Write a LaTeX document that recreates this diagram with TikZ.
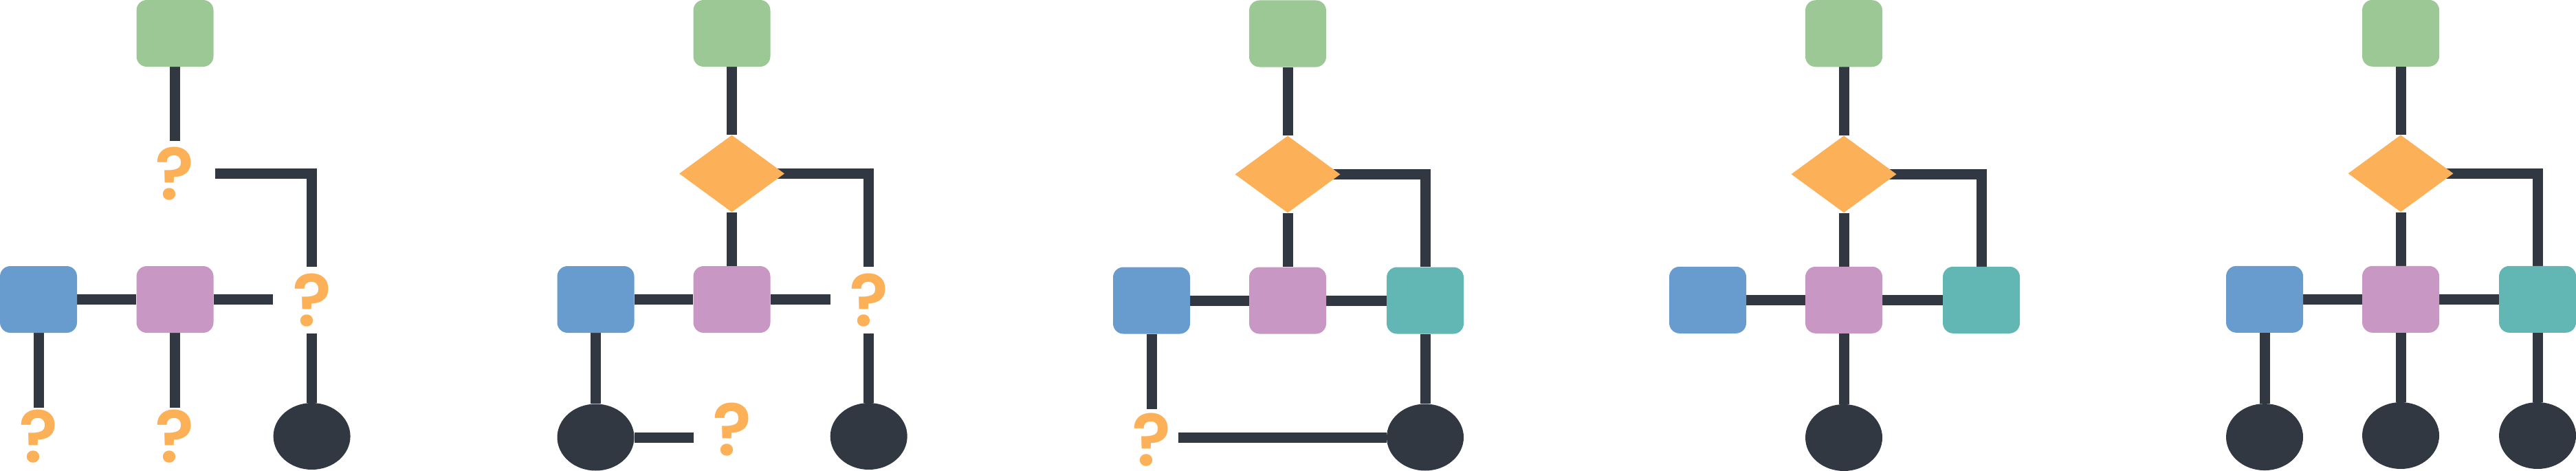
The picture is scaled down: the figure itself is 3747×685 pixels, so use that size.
\documentclass[tikz,border=0pt]{standalone}
\usepackage{fontspec}
\newfontfamily\qfont{Poppins}[BoldFont={Poppins SemiBold}]
\usetikzlibrary{shapes.geometric}
\definecolor{cgreen}{HTML}{9BC895}
\definecolor{cblue}{HTML}{689BCE}
\definecolor{cpink}{HTML}{C897C3}
\definecolor{cteal}{HTML}{62B7B5}
\definecolor{corange}{HTML}{FCB058}
\definecolor{cdark}{HTML}{323841}
\pgfdeclarelayer{bg}
\pgfsetlayers{bg,main}
\tikzset{
  boxn/.style={rectangle, rounded corners=15pt, minimum width=112pt, minimum height=97pt, inner sep=0pt, draw=none},
  gbox/.style={boxn, fill=cgreen},
  bbox/.style={boxn, fill=cblue},
  pbox/.style={boxn, fill=cpink},
  tbox/.style={boxn, fill=cteal},
  dia/.style={diamond, fill=corange, minimum width=153pt, minimum height=112pt, aspect=1.366, inner sep=0pt},
  endn/.style={ellipse, fill=cdark, minimum width=112pt, minimum height=97pt, inner sep=0pt},
  qm/.style={rectangle, inner sep=0pt, text=corange, font=\qfont\bfseries\fontsize{106}{106}\selectfont, minimum width=112pt, minimum height=97pt},
  link/.style={draw=cdark, line width=15pt, line join=miter}
}
\begin{document}
\begin{tikzpicture}[x=1pt, y=-1pt]
\useasboundingbox (0,0) rectangle (3747,685);
% ---------- panel 1
\node[gbox] (g1) at (254.5,48.5) {};
\node[qm, minimum width=116pt, minimum height=94pt] (q1t) at (254.5,252.5) {?};
\node[bbox] (b1) at (56,435.5) {};
\node[pbox] (p1) at (254.5,435.5) {};
\node[qm] (q1r) at (453.6,436.5) {?};
\node[endn] (e1) at (453.6,634.5) {};
\node[qm, minimum height=82pt] (q1a) at (56,634.5) {?};
\node[qm, minimum height=82pt] (q1b) at (254.5,634.5) {?};
% ---------- panel 2
\node[gbox] (g2) at (1064.5,48.5) {};
\node[dia] (d2) at (1064.5,252.5) {};
\node[bbox] (b2) at (866.5,435.5) {};
\node[pbox] (p2) at (1064.5,435.5) {};
\node[qm] (q2r) at (1263.7,436.5) {?};
\node[endn] (e2r) at (1263.7,634.5) {};
\node[endn] (e2l) at (866.5,636) {};
\node[qm] (q2b) at (1065,625) {?};
% ---------- panel 3
\node[gbox] (g3) at (1873,49) {};
\node[dia] (d3) at (1873,253.5) {};
\node[bbox] (b3) at (1675,437) {};
\node[pbox] (p3) at (1873,437) {};
\node[tbox] (t3) at (2073,437) {};
\node[qm, minimum width=78pt, minimum height=90pt] (q3) at (1675,640) {\raisebox{-5pt}{?}};
\node[endn] (e3) at (2073,636) {};
% ---------- panel 4
\node[gbox] (g4) at (2682,48.75) {};
\node[dia] (d4) at (2682,253.3) {};
\node[bbox] (b4) at (2484,436.3) {};
\node[pbox] (p4) at (2682,436.3) {};
\node[tbox] (t4) at (2882,436.3) {};
\node[endn] (e4) at (2682,636.5) {};
% ---------- panel 5
\node[gbox] (g5) at (3492,48.3) {};
\node[dia] (d5) at (3492,252.3) {};
\node[bbox] (b5) at (3294,435.3) {};
\node[pbox] (p5) at (3492,435.3) {};
\node[tbox] (t5) at (3691,435.3) {};
\node[endn] (e5l) at (3294,635.6) {};
\node[endn] (e5m) at (3492,633.5) {};
\node[endn] (e5r) at (3691,633.5) {};
\begin{pgfonlayer}{bg}
% panel 1
\draw[link] (g1.south) -- (q1t.north);
\draw[link] (q1t.east) -| (q1r.north);
\draw[link] (b1.east) -- (p1.west);
\draw[link] (p1.east) -- (p1.east -| q1r.west);
\draw[link] (q1r.south) -- (e1.north);
\draw[link] (b1.south) -- (q1a.north);
\draw[link] (p1.south) -- (q1b.north);
% panel 2
\draw[link] (g2.south) -- (d2.north);
\draw[link] (d2.south) -- (p2.north);
\draw[link] (d2.center) -| (q2r.north);
\draw[link] (b2.east) -- (p2.west);
\draw[link] (p2.east) -- (p2.east -| q2r.west);
\draw[link] (q2r.south) -- (e2r.north);
\draw[link] (b2.south) -- (e2l.north);
\draw[link] (e2l.east) -- (e2l.east -| q2b.west);
% panel 3
\draw[link] (g3.south) -- (d3.north);
\draw[link] (d3.south) -- (p3.north);
\draw[link] (d3.center) -| (t3.north);
\draw[link] (b3.east) -- (p3.west);
\draw[link] (p3.east) -- (t3.west);
\draw[link] (b3.south) -- (q3.north);
\draw[link] (t3.south) -- (e3.north);
\draw[link] (e3.west) -- (e3.west -| q3.east);
% panel 4
\draw[link] (g4.south) -- (d4.north);
\draw[link] (d4.south) -- (p4.north);
\draw[link] (d4.center) -| (t4.north);
\draw[link] (b4.east) -- (p4.west);
\draw[link] (p4.east) -- (t4.west);
\draw[link] (p4.south) -- (e4.north);
% panel 5
\draw[link] (g5.south) -- (d5.north);
\draw[link] (d5.south) -- (p5.north);
\draw[link] (d5.center) -| (t5.north);
\draw[link] (b5.east) -- (p5.west);
\draw[link] (p5.east) -- (t5.west);
\draw[link] (b5.south) -- (e5l.north);
\draw[link] (p5.south) -- (e5m.north);
\draw[link] (t5.south) -- (e5r.north);
\end{pgfonlayer}
\end{tikzpicture}
\end{document}
